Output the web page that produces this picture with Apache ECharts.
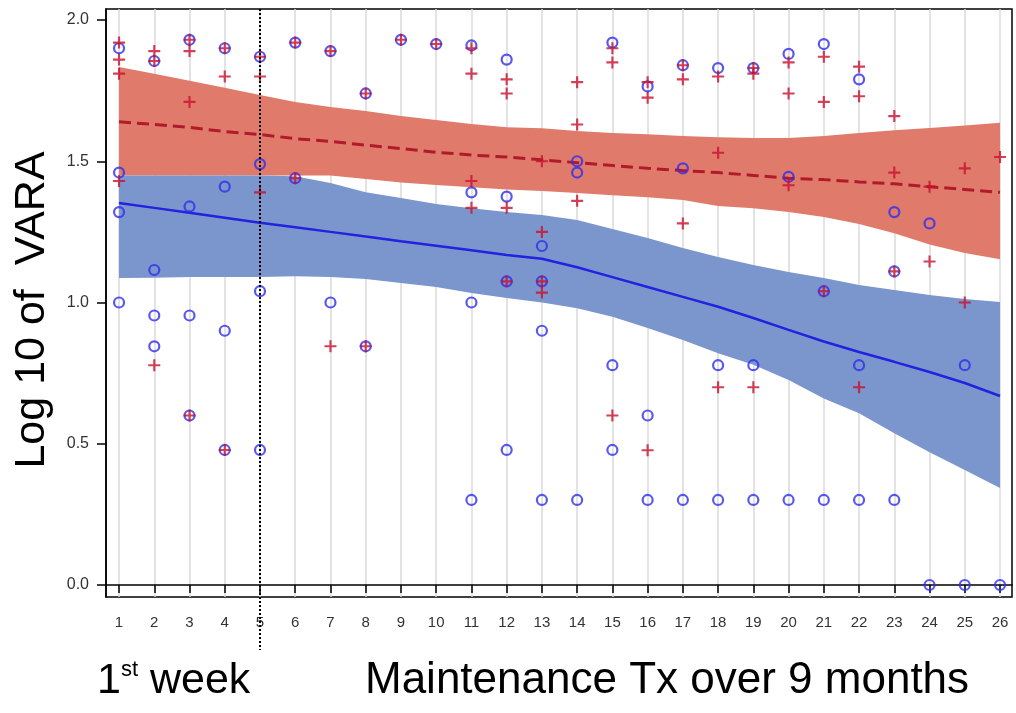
<!DOCTYPE html>
<html><head><meta charset="utf-8">
<script src="https://cdn.jsdelivr.net/npm/echarts@6/dist/echarts.min.js"></script>
<style>html,body{margin:0;padding:0;background:#fff}#c{width:1016px;height:713px}</style>
</head><body><div id="c"></div>
<script>
const weeks = [1,2,3,4,5,6,7,8,9,10,11,12,13,14,15,16,17,18,19,20,21,22,23,24,25,26];
const yTicks = [0, 0.5, 1, 1.5, 2];
const yTitle = 'Log 10 of  VARA';
const xTitleWeek = ['1', 'st', ' week'];
const xTitleMaint = 'Maintenance Tx over 9 months';
const dividerWeek = 5;

// observed values per week (blue circles, red pluses)
const blueObs = [
  [1.90,1.46,1.32,1.00],[1.855,1.115,0.954,0.845],[1.93,1.34,0.954,0.60],[1.90,1.41,0.90,0.478],
  [1.87,1.49,1.04,0.478],[1.92,1.44],[1.89,1.00],[1.74,0.845],[1.93],[1.915],
  [1.91,1.39,1.00,0.301],[1.86,1.375,1.075,0.478],[1.20,1.075,0.90,0.301],[1.50,1.46,0.301],
  [1.92,0.778,0.478],[1.765,0.60,0.301],[1.84,1.475,0.301],[1.83,0.778,0.301],[1.83,0.778,0.301],
  [1.88,1.445,0.301],[1.915,1.04,0.301],[1.79,0.778,0.301],[1.32,1.11,0.301],[1.28,0],[0.778,0],[0]
];
const redObs = [
  [1.92,1.86,1.81,1.43],[1.89,1.855,0.778],[1.93,1.89,1.71,0.60],[1.90,1.80,0.478],
  [1.87,1.80,1.39],[1.92,1.44],[1.89,0.845],[1.74,0.845],[1.93],[1.915],
  [1.90,1.81,1.43,1.335],[1.79,1.74,1.335,1.075],[1.50,1.25,1.075,1.035],[1.78,1.63,1.36],
  [1.90,1.85,0.60],[1.78,1.725,0.477],[1.84,1.79,1.28],[1.80,1.53,0.70],[1.83,1.81,0.70],
  [1.85,1.74,1.415],[1.87,1.71,1.04],[1.835,1.73,0.70],[1.66,1.46,1.11],[1.41,1.145],[1.475,1.00],[1.515]
];

// fitted curves and confidence bands
const redFit = [1.64,1.63,1.62,1.605,1.595,1.58,1.57,1.557,1.545,1.532,1.522,1.515,1.505,1.495,1.485,1.475,1.467,1.46,1.45,1.44,1.435,1.427,1.42,1.41,1.40,1.39];
const redUp  = [1.834,1.81,1.785,1.76,1.735,1.71,1.692,1.678,1.66,1.646,1.632,1.62,1.617,1.607,1.60,1.596,1.589,1.585,1.582,1.582,1.589,1.60,1.61,1.618,1.627,1.636];
const redLow = [1.45,1.45,1.45,1.45,1.45,1.45,1.45,1.437,1.425,1.416,1.408,1.40,1.395,1.388,1.38,1.373,1.363,1.342,1.334,1.32,1.303,1.278,1.245,1.205,1.175,1.153];
const blueFit = [1.352,1.335,1.318,1.30,1.282,1.266,1.25,1.234,1.217,1.201,1.185,1.168,1.155,1.125,1.09,1.055,1.02,0.985,0.945,0.903,0.862,0.825,0.79,0.754,0.715,0.669];
const blueUp  = [1.45,1.45,1.45,1.45,1.45,1.447,1.423,1.39,1.37,1.349,1.334,1.32,1.31,1.292,1.26,1.228,1.193,1.161,1.133,1.108,1.087,1.062,1.044,1.027,1.012,1.002];
const blueLow = [1.087,1.088,1.09,1.09,1.09,1.093,1.09,1.083,1.069,1.055,1.034,1.016,1.0,0.98,0.95,0.91,0.867,0.82,0.78,0.726,0.66,0.608,0.537,0.47,0.407,0.343];

const FONT = '"Liberation Sans", Arial, sans-serif';
const xMin = 0.63, xMax = 26.34, yMin = -0.0425, yMax = 2.039;

function flatten(obs){
  const out = [];
  obs.forEach((vals, i) => vals.forEach(v => out.push([weeks[i], v])));
  return out;
}
function band(low, up, color){
  return {
    type: 'custom', silent: true, z: 1,
    data: weeks.map((w, i) => [w, low[i], up[i]]),
    encode: { x: 0, y: [1, 2] },
    renderItem(params, api){
      if (params.dataIndex !== 0) return null;
      const pts = [];
      for (let i = 0; i < weeks.length; i++) pts.push(api.coord([weeks[i], up[i]]));
      for (let i = weeks.length - 1; i >= 0; i--) pts.push(api.coord([weeks[i], low[i]]));
      return { type: 'polygon', shape: { points: pts }, style: { fill: color } };
    }
  };
}

const chart = echarts.init(document.getElementById('c'), null, { renderer: 'canvas' });
const plusPath = 'path://M4.1,0h1.8v4.1h4.1v1.8h-4.1v4.1h-1.8v-4.1h-4.1v-1.8h4.1z';

chart.setOption({
  animation: false,
  backgroundColor: '#fff',
  textStyle: { fontFamily: FONT },
  grid: { left: 106, right: 4, top: 9, bottom: 116, show: true, borderColor: '#000', borderWidth: 1.5, backgroundColor: 'transparent' },
  xAxis: {
    type: 'value', min: xMin, max: xMax,
    axisLine: { show: true, lineStyle: { color: '#000', width: 1.5 } },
    axisTick: { show: true, length: 8, customValues: weeks, lineStyle: { color: '#000', width: 1.5 } },
    axisLabel: { customValues: weeks, margin: 18, fontSize: 15, color: '#333', fontFamily: FONT },
    splitLine: { show: true, lineStyle: { color: '#dadada', width: 1.5 } }
  },
  yAxis: {
    type: 'value', min: yMin, max: yMax,
    axisLine: { show: true, lineStyle: { color: '#000', width: 1.5 } },
    axisTick: { show: true, length: 9, customValues: yTicks, lineStyle: { color: '#000', width: 1.5 } },
    axisLabel: { customValues: yTicks, margin: 17, fontSize: 16, color: '#333', fontFamily: FONT,
      formatter: v => Number(v).toFixed(1) },
    splitLine: { show: false }
  },
  series: [
    band(redLow, redUp, '#E07B6B'),
    band(blueLow, blueUp, '#7B96CC'),
    { type: 'line', z: 3, data: weeks.map((w, i) => [w, redFit[i]]), symbol: 'none', silent: true,
      lineStyle: { color: '#B11A2A', width: 3, type: [12, 6] } },
    { type: 'line', z: 3, data: weeks.map((w, i) => [w, blueFit[i]]), symbol: 'none', silent: true,
      lineStyle: { color: '#2222E0', width: 2.5 } },
    { type: 'scatter', z: 4, data: flatten(blueObs), symbol: 'circle', symbolSize: 10,
      itemStyle: { color: 'rgba(0,0,0,0)', borderColor: '#2E2EEE', borderWidth: 2.2 } },
    { type: 'scatter', z: 5, data: flatten(redObs), symbol: plusPath, symbolSize: 12,
      itemStyle: { color: '#C8102E' } }
  ]
});

const x5 = chart.convertToPixel({ xAxisIndex: 0 }, dividerWeek);
const yTop = chart.convertToPixel({ yAxisIndex: 0 }, yMax);
chart.setOption({
  graphic: [
    { type: 'line', z: 10, shape: { x1: x5, y1: yTop, x2: x5, y2: 650 },
      style: { stroke: '#000', lineWidth: 2, lineDash: [2, 2] } },
    { type: 'text', x: 32, y: 310, rotation: Math.PI / 2,
      style: { text: yTitle, font: '43px ' + FONT, fill: '#000', align: 'center', verticalAlign: 'middle' } },
    { type: 'text', x: 97, y: 703,
      style: {
        text: '{a|' + xTitleWeek[0] + '}{s|' + xTitleWeek[1] + '}{a|' + xTitleWeek[2] + '}',
        verticalAlign: 'bottom', align: 'left',
        rich: {
          a: { fontSize: 43, fontFamily: FONT, fill: '#000', color: '#000', verticalAlign: 'bottom', lineHeight: 44 },
          s: { fontSize: 22, fontFamily: FONT, fill: '#000', color: '#000', verticalAlign: 'top', lineHeight: 44 }
        }
      } },
    { type: 'text', x: 365, y: 703,
      style: { text: xTitleMaint, font: '44px ' + FONT, fill: '#000', align: 'left', verticalAlign: 'bottom' } }
  ]
});
</script>
</body></html>
